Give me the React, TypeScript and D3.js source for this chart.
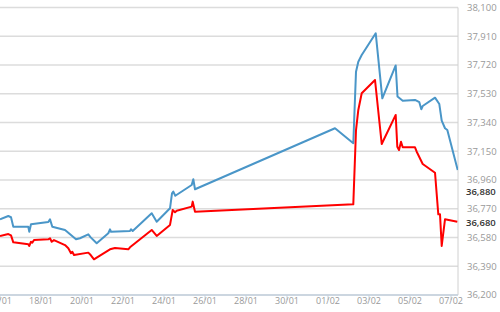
import React from "react";
import * as d3 from "d3";

// Days elapsed since 16/01 (fractional) and values
const blueDays = [0, 0.405, 0.537, 0.649, 1.38, 1.429, 1.512, 2.356, 2.439, 2.551, 3.171, 3.332, 3.707, 3.902, 4.307, 4.424, 4.717, 5.283, 5.366, 5.415, 6.341, 6.39, 6.473, 7.4, 7.644, 8.293, 8.39, 8.454, 8.551, 9.351, 9.429, 9.512, 16.341, 17.234, 17.366, 17.478, 17.644, 18.327, 18.649, 19.302, 19.39, 19.644, 20.244, 20.454, 20.551, 20.62, 21.22, 21.429, 21.546, 21.707, 21.82, 22.327];
const blueValues = [36700, 36722, 36714, 36651, 36651, 36618, 36667, 36682, 36700, 36651, 36630, 36612, 36568, 36575, 36601, 36581, 36542, 36608, 36634, 36618, 36623, 36634, 36623, 36740, 36684, 36773, 36872, 36883, 36856, 36927, 36965, 36899, 37302, 37203, 37676, 37742, 37786, 37930, 37500, 37717, 37512, 37484, 37489, 37474, 37427, 37449, 37504, 37462, 37352, 37302, 37290, 37026];

const redDays = [0, 0.405, 0.537, 0.649, 1.38, 1.429, 1.512, 1.576, 1.659, 2.356, 2.439, 2.522, 2.634, 3.171, 3.332, 3.463, 3.527, 3.61, 4.307, 4.424, 4.585, 4.717, 5.366, 5.61, 6.259, 6.341, 7.4, 7.644, 8.293, 8.424, 8.537, 8.62, 9.351, 9.4, 9.512, 17.234, 17.366, 17.478, 17.644, 18.293, 18.62, 19.302, 19.38, 19.463, 19.561, 19.644, 20.244, 20.327, 20.62, 21.22, 21.38, 21.463, 21.546, 21.707, 22.307];
const redValues = [36590, 36603, 36594, 36548, 36535, 36524, 36552, 36546, 36563, 36568, 36575, 36552, 36563, 36530, 36509, 36476, 36486, 36464, 36480, 36464, 36436, 36447, 36502, 36511, 36502, 36515, 36630, 36590, 36663, 36762, 36747, 36757, 36784, 36817, 36750, 36799, 37290, 37423, 37533, 37621, 37198, 37390, 37180, 37158, 37213, 37176, 37176, 37147, 37066, 37008, 36733, 36733, 36524, 36700, 36684];

const xTickLabels = ["16/01", "18/01", "20/01", "22/01", "24/01", "26/01", "28/01", "30/01", "01/02", "03/02", "05/02", "07/02"];
const yTicks = [36200, 36390, 36580, 36770, 36960, 37150, 37340, 37530, 37720, 37910, 38100];
const markerValues = [36880, 36680];

const baseDate = new Date(2019, 0, 16);
const DAY = 86400000;
const toDate = (d: number) => new Date(baseDate.getTime() + d * DAY);

export default function App() {
  const W = 500, H = 312;
  const plotRight = 458, plotTop = 7.5, plotBottom = 295;
  const x = d3.scaleTime()
    .domain([toDate(0), toDate(22.341)])
    .range([0, plotRight]);
  const y = d3.scaleLinear().domain([36200, 38100]).range([plotBottom, plotTop]);
  const fmt = d3.format(",");
  const line = d3.line<[number, number]>()
    .x((p) => x(toDate(p[0])))
    .y((p) => y(p[1]));
  const blue = blueDays.map((d, i) => [d, blueValues[i]] as [number, number]);
  const red = redDays.map((d, i) => [d, redValues[i]] as [number, number]);
  const font = "'Open Sans', sans-serif";

  return (
    <svg width={W} height={H} style={{ position: "absolute", left: 0, top: 0, background: "#fff" }}>
      <defs>
        <clipPath id="plot">
          <rect x={0} y={0} width={plotRight} height={plotBottom + 1} />
        </clipPath>
      </defs>
      {yTicks.map((t) => (
        <line key={t} x1={0} x2={plotRight} y1={y(t)} y2={y(t)} stroke="#dcdcdc" strokeWidth={1.5} />
      ))}
      <line x1={plotRight} x2={plotRight} y1={plotTop} y2={plotBottom} stroke="#d0d0d0" strokeWidth={1} />
      <line x1={0} x2={plotRight} y1={plotBottom} y2={plotBottom} stroke="#c3d0de" strokeWidth={1.5} />
      {xTickLabels.map((lab, i) => {
        const px = x(toDate(i * 2));
        return (
          <g key={lab}>
            <line x1={px} x2={px} y1={plotBottom} y2={plotBottom + 5} stroke="#c3d0de" strokeWidth={1} />
            <text x={px} y={304} textAnchor="middle" fontFamily={font} fontSize={9} fill="#999">{lab}</text>
          </g>
        );
      })}
      <g clipPath="url(#plot)">
        <path d={line(blue) || ""} fill="none" stroke="#4a96c8" strokeWidth={2} strokeLinejoin="round" />
        <path d={line(red) || ""} fill="none" stroke="#ff0000" strokeWidth={2} strokeLinejoin="round" />
      </g>
      {yTicks.map((t) => (
        <text key={t} x={467} y={y(t)} dy="0.35em" fontFamily={font} fontSize={9.5} fill="#999">{fmt(t)}</text>
      ))}
      {markerValues.map((t) => (
        <text key={t} x={466} y={y(t)} dy="0.35em" fontFamily={font} fontSize={9.5} fontWeight={600} fill="#333">{fmt(t)}</text>
      ))}
    </svg>
  );
}
